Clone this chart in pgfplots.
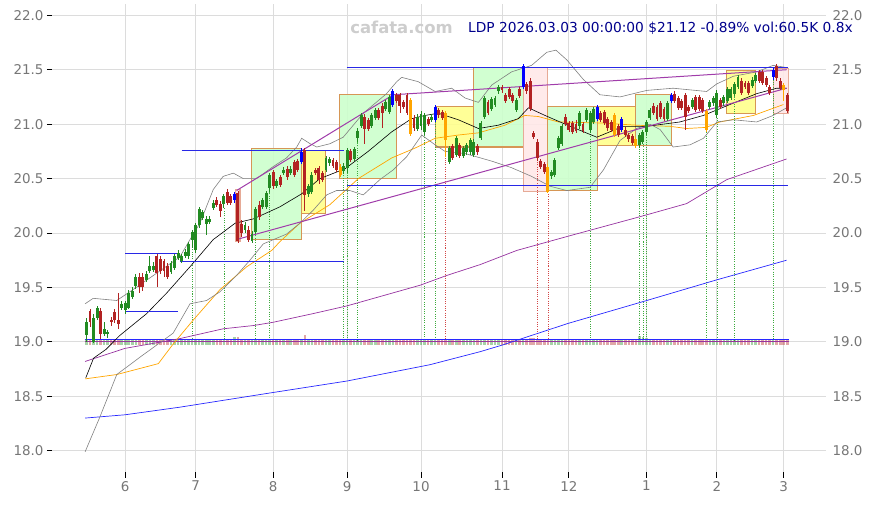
\documentclass[border=0pt]{standalone}
\usepackage{pgfplots}
\usepackage{pgfplotstable}
\pgfplotsset{compat=1.18}
\usepackage{fontspec}
\setmainfont{DejaVu Sans}
\definecolor{cgreen}{RGB}{34,139,34}
\definecolor{cred}{RGB}{178,34,34}
\definecolor{cblue}{RGB}{0,0,255}
\definecolor{corange}{RGB}{255,165,0}
\definecolor{lblgray}{RGB}{118,118,118}
\definecolor{gridgray}{RGB}{220,220,220}
\definecolor{boxgreen}{RGB}{204,255,204}
\definecolor{boxyellow}{RGB}{255,255,140}
\definecolor{boxpink}{RGB}{255,232,232}
\definecolor{boxedge}{RGB}{214,150,85}
\definecolor{pinkedge}{RGB}{230,170,150}
\definecolor{maPurple}{RGB}{150,50,160}
\definecolor{trPurple}{RGB}{160,60,170}
\definecolor{maBlue}{RGB}{40,40,255}
\definecolor{hBlue}{RGB}{40,40,230}
\definecolor{titleblue}{RGB}{0,0,140}
\definecolor{wmgray}{RGB}{205,205,205}
\definecolor{dotgreen}{RGB}{60,170,60}
\definecolor{dotred}{RGB}{210,70,70}

\pgfplotstableread{
i o h l c t v
-11 19.06 19.22 19.00 19.18 0 1
-10 19.28 19.30 19.14 19.18 1 1
-9 19.00 19.26 18.99 19.22 0 1
-8 19.22 19.33 19.20 19.31 0 1
-7 19.28 19.31 19.03 19.07 1 1
-6 19.07 19.18 19.05 19.12 0 1
-5 19.07 19.11 19.04 19.09 0 1
-4 19.20 19.23 19.15 19.18 1 1
-3 19.27 19.30 19.17 19.20 1 1
-2 19.20 19.45 19.12 19.16 1 1
-1 19.31 19.38 19.29 19.35 0 1
0 19.29 19.38 19.26 19.36 0 1
1 19.31 19.48 19.30 19.45 0 1
2 19.41 19.50 19.39 19.47 0 1
3 19.51 19.62 19.49 19.60 0 1
4 19.60 19.63 19.45 19.50 1 1
5 19.60 19.63 19.47 19.50 1 1
6 19.57 19.65 19.55 19.62 0 1
7 19.65 19.79 19.63 19.70 0 1
8 19.66 19.73 19.64 19.70 0 1
9 19.79 19.81 19.50 19.63 1 1
10 19.76 19.79 19.62 19.65 1 1
11 19.74 19.76 19.60 19.65 1 1
12 19.70 19.72 19.58 19.60 1 1
13 19.64 19.74 19.62 19.72 0 1
14 19.68 19.81 19.66 19.79 0 1
15 19.77 19.84 19.75 19.82 0 1
16 19.74 19.81 19.72 19.79 0 1
17 19.79 19.85 19.77 19.83 0 1
18 19.79 19.92 19.76 19.90 0 1
19 19.94 20.03 19.86 20.01 0 1
20 19.84 20.09 19.82 20.07 0 1
21 20.07 20.24 20.05 20.22 0 1
22 20.14 20.21 20.12 20.19 0 1
23 20.08 20.16 19.98 20.13 0 1
24 20.10 20.16 20.08 20.13 0 1
25 20.23 20.30 20.21 20.28 0 1
26 20.30 20.33 20.24 20.26 1 1
27 20.27 20.29 20.15 20.20 1 1
28 20.27 20.36 20.23 20.34 0 1
29 20.38 20.40 20.26 20.28 1 1
30 20.34 20.36 20.26 20.28 1 1
31 20.30 20.38 20.28 20.36 2 1.6
32 20.37 20.39 19.91 19.93 1 1.6
33 20.08 20.12 19.96 20.00 1 1
34 20.03 20.10 20.00 20.07 0 1
35 20.03 20.06 19.92 19.94 1 1
36 19.93 20.02 19.91 19.99 0 1
37 20.01 20.24 19.99 20.22 0 1
38 20.26 20.29 20.12 20.15 1 1
39 20.24 20.32 20.22 20.30 0 1
40 20.24 20.39 20.22 20.37 0 1
41 20.41 20.55 20.38 20.53 0 1
42 20.56 20.58 20.40 20.43 1 1
43 20.43 20.50 20.41 20.48 0 1
44 20.51 20.53 20.42 20.44 1 1
45 20.55 20.61 20.53 20.58 0 1
46 20.59 20.62 20.49 20.51 1 1
47 20.55 20.62 20.53 20.59 0 1
48 20.65 20.67 20.51 20.53 1 1
49 20.66 20.68 20.56 20.58 1 1
50 20.65 20.78 20.63 20.74 2 1
51 20.76 20.78 20.20 20.35 1 1.9
52 20.36 20.45 20.33 20.43 0 1
53 20.38 20.56 20.36 20.53 0 1
54 20.58 20.60 20.53 20.55 1 1
55 20.60 20.62 20.45 20.49 1 1
56 20.55 20.57 20.47 20.49 1 1
57 20.58 20.71 20.56 20.69 0 1
58 20.64 20.70 20.62 20.68 0 1
59 20.67 20.69 20.60 20.62 1 1
60 20.65 20.67 20.56 20.58 1 1
61 20.61 20.63 20.51 20.53 3 1
62 20.57 20.64 20.54 20.62 0 1
63 20.60 20.78 20.55 20.76 0 1
64 20.75 20.77 20.65 20.67 1 1
65 20.68 20.79 20.66 20.77 0 1
66 20.87 20.96 20.84 20.94 0 1
67 20.98 21.10 20.96 21.08 0 1
68 21.07 21.09 20.82 20.96 1 1
69 21.04 21.06 20.94 20.96 1 1
70 20.98 21.10 20.96 21.08 0 1
71 21.06 21.15 21.04 21.13 0 1
72 21.13 21.15 21.04 21.06 1 1
73 21.17 21.19 20.96 21.10 1 1
74 21.14 21.22 21.12 21.20 0 1
75 21.11 21.27 21.09 21.25 0 1
76 21.18 21.32 21.16 21.30 2 1
77 21.27 21.29 21.19 21.21 1 1
78 21.27 21.29 21.10 21.17 1 1
79 21.20 21.22 21.14 21.16 1 1
80 21.27 21.29 21.08 21.10 1 1
81 21.22 21.24 20.89 20.91 3 1
82 21.06 21.08 20.94 20.96 1 1
83 20.96 21.09 20.94 21.07 0 1
84 20.98 21.12 20.95 21.09 0 1
85 20.93 21.10 20.90 21.08 0 1
86 21.05 21.07 20.98 21.00 1 1
87 21.04 21.09 21.02 21.07 0 1
88 21.04 21.18 21.02 21.16 2 1
89 21.13 21.15 21.06 21.08 1 1
90 21.11 21.13 21.04 21.06 1 1
91 21.10 21.12 20.70 20.85 3 1
92 20.65 20.80 20.63 20.78 0 1
93 20.80 20.82 20.67 20.69 1 1
94 20.72 20.89 20.70 20.87 0 1
95 20.81 20.83 20.69 20.71 1 1
96 20.71 20.80 20.69 20.78 0 1
97 20.74 20.83 20.72 20.81 0 1
98 20.74 20.87 20.72 20.85 0 1
99 20.72 20.86 20.70 20.84 0 1
100 20.80 20.82 20.72 20.74 1 1
101 20.87 21.03 20.85 21.01 0 1
102 21.07 21.26 21.05 21.24 0 1
103 21.20 21.22 21.08 21.10 1 1
104 21.14 21.25 21.12 21.23 0 1
105 21.18 21.26 21.16 21.24 0 1
106 21.30 21.36 21.28 21.34 0 1
107 21.34 21.36 21.29 21.31 1 1
108 21.27 21.29 21.19 21.21 1 1
109 21.32 21.34 21.23 21.25 1 1
110 21.27 21.29 21.19 21.21 1 1
111 21.13 21.24 21.11 21.22 0 1
112 21.32 21.34 21.24 21.26 1 1
113 21.34 21.55 21.32 21.53 2 1
114 21.37 21.39 21.28 21.30 1 1
115 21.40 21.42 21.12 21.14 1 1.3
116 20.92 20.94 20.86 20.88 1 1.3
117 20.84 20.86 20.66 20.69 1 1.2
118 20.66 20.68 20.59 20.61 1 1
119 20.63 20.65 20.54 20.56 1 1
120 20.61 20.63 20.37 20.38 3 1
121 20.52 20.58 20.50 20.56 0 1
122 20.53 20.69 20.51 20.67 0 1
123 20.78 20.89 20.76 20.87 0 1
124 20.82 21.00 20.80 20.98 0 1
125 21.07 21.09 20.98 21.00 1 1
126 21.01 21.03 20.93 20.95 1 1
127 21.01 21.03 20.91 20.93 1 1
128 21.00 21.04 20.92 20.94 1 1
129 20.98 21.12 20.96 21.10 0 1
130 21.00 21.02 20.92 20.94 1 1
131 21.04 21.15 21.02 21.13 0 1
132 20.95 21.12 20.92 21.10 0 1
133 21.02 21.16 21.00 21.14 0 1
134 21.05 21.18 21.03 21.16 2 1
135 21.10 21.12 21.02 21.04 1 1
136 21.11 21.13 20.99 21.01 1 1
137 21.05 21.07 20.94 20.96 1 1
138 21.02 21.04 20.93 20.95 1 1
139 21.08 21.10 20.88 20.90 3 1
140 20.98 21.00 20.88 20.90 1 1
141 20.95 21.07 20.93 21.05 2 1
142 20.95 20.97 20.88 20.90 1 1
143 20.90 20.92 20.84 20.86 1 1
144 20.89 20.91 20.81 20.83 1 1
145 20.86 20.88 20.78 20.80 3 1
146 20.81 20.92 20.78 20.90 0 1.8
147 20.84 20.95 20.82 20.93 0 1.5
148 20.93 21.04 20.90 21.02 0 1.3
149 21.06 21.15 21.04 21.13 0 1
150 21.17 21.19 21.08 21.10 1 1
151 21.16 21.18 21.03 21.05 1 1
152 21.19 21.21 21.05 21.07 1 1
153 21.14 21.16 21.03 21.05 1 1
154 21.05 21.21 21.03 21.19 0 1
155 21.21 21.29 21.19 21.27 2 1
156 21.28 21.30 21.19 21.21 1 1
157 21.24 21.26 21.13 21.15 1 1
158 21.21 21.23 21.13 21.15 1 1
159 21.27 21.29 20.95 21.07 1 1
160 21.16 21.18 21.10 21.12 1 1
161 21.16 21.24 21.14 21.22 0 1
162 21.25 21.27 21.11 21.13 1 1
163 21.25 21.27 21.12 21.14 1 1
164 21.22 21.24 21.10 21.12 1 1
165 21.12 21.14 20.93 20.95 3 1
166 21.16 21.22 21.14 21.20 0 1
167 21.19 21.26 21.17 21.24 0 1
168 21.08 21.31 21.06 21.29 0 1
169 21.22 21.24 21.14 21.16 1 1
170 21.19 21.27 21.17 21.25 0 1
171 21.21 21.34 21.19 21.32 0 1
172 21.24 21.34 21.22 21.32 0 1
173 21.28 21.39 21.26 21.37 0 1
174 21.34 21.45 21.32 21.43 0 1
175 21.40 21.42 21.27 21.29 1 1
176 21.38 21.40 21.32 21.34 1 1
177 21.38 21.40 21.27 21.29 1 1
178 21.35 21.43 21.33 21.41 0 1
179 21.40 21.47 21.38 21.45 0 1
180 21.48 21.50 21.38 21.40 1 1
181 21.48 21.50 21.36 21.38 1 1
182 21.42 21.44 21.34 21.36 1 1
183 21.34 21.36 21.27 21.29 1 1
184 21.43 21.52 21.41 21.50 2 1
185 21.53 21.55 21.40 21.42 1 1
186 21.40 21.42 21.31 21.33 1 1
187 21.36 21.38 21.21 21.31 3 1
188 21.27 21.29 21.10 21.12 1 1
}\candles

\pgfplotstableread{
i top c
19 19.86 0
28 20.23 0
37 19.99 0
41 20.38 0
62 20.54 0
63 20.55 0
66 20.84 0
85 20.90 0
88 21.02 0
91 20.70 1
117 20.66 1
120 20.37 1
132 20.92 0
146 20.78 0
147 20.82 0
148 20.90 0
165 20.93 0
168 21.06 0
173 21.26 0
184 21.41 0
}\vlines

\pgfplotsset{
  chartbase/.style={
    scale only axis, width=774bp, height=468.1bp,
    xmin=-20.8, xmax=199, ymin=17.8, ymax=22.1,
    ytick={18,18.5,19,19.5,20,20.5,21,21.5,22},
    yticklabel style={/pgf/number format/fixed, /pgf/number format/fixed zerofill, /pgf/number format/precision=1},
    /pgf/number format/assume math mode=true,
    ticklabel style={font=\fontsize{13.5}{15}\selectfont, text=lblgray},
    axis line style={draw=none},
  },
  ebase/.style={draw=none, forget plot, mark=none,
    error bars/y dir=both, error bars/y explicit, error bars/error mark=none},
  wick/.style={ebase, error bars/error bar style={draw=#1, line width=0.8bp}},
  body/.style={ebase, error bars/error bar style={draw=#1, line width=2.9bp}},
  vol/.style={ebase, error bars/error bar style={draw=#1, opacity=0.4, line width=2.6bp}},
  vdot/.style={ebase, error bars/error bar style={draw=#1, line width=0.6bp, dash pattern=on 1bp off 1.3bp}},
  gbox/.style={fill=boxgreen, fill opacity=0.9, draw=boxedge, line width=1.1bp},
  ybox/.style={fill=boxyellow, fill opacity=0.9, draw=boxedge, line width=1.1bp},
  pbox/.style={fill=boxpink, fill opacity=0.9, draw=pinkedge, line width=1.1bp},
}

\begin{document}
\begin{tikzpicture}
\begin{axis}[chartbase,
  xtick={0,20,42,63,84,107,126,148,168,187},
  xticklabels={6,7,8,9,10,11,12,1,2,3},
  tick pos=left, tick align=outside, major tick length=5bp,
  tick style={black, line width=0.9bp},
  grid=major, major grid style={gridgray, line width=0.9bp},
]
% pattern boxes
\addplot[pbox] coordinates {(31.3,19.92)(32.6,19.92)(32.6,20.40)(31.3,20.40)} -- cycle;
\addplot[gbox] coordinates {(35.9,19.94)(50.1,19.94)(50.1,20.78)(35.9,20.78)} -- cycle;
\addplot[ybox] coordinates {(50.1,20.18)(56.9,20.18)(56.9,20.76)(50.1,20.76)} -- cycle;
\addplot[gbox] coordinates {(60.8,20.50)(77.1,20.50)(77.1,21.27)(60.8,21.27)} -- cycle;
\addplot[ybox] coordinates {(88.0,20.79)(98.8,20.79)(98.8,21.16)(88.0,21.16)} -- cycle;
\addplot[gbox] coordinates {(98.8,20.79)(113.2,20.79)(113.2,21.52)(98.8,21.52)} -- cycle;
\addplot[pbox] coordinates {(113.2,20.38)(120.0,20.38)(120.0,21.52)(113.2,21.52)} -- cycle;
\addplot[gbox] coordinates {(120.0,20.39)(134.0,20.39)(134.0,21.16)(120.0,21.16)} -- cycle;
\addplot[ybox] coordinates {(134.0,20.80)(144.8,20.80)(144.8,21.16)(134.0,21.16)} -- cycle;
\addplot[gbox] coordinates {(144.8,20.80)(155.2,20.80)(155.2,21.27)(144.8,21.27)} -- cycle;
\addplot[ybox] coordinates {(170.8,21.10)(179.0,21.10)(179.0,21.49)(170.8,21.49)} -- cycle;
\addplot[pbox] coordinates {(184.0,21.10)(188.4,21.10)(188.4,21.51)(184.0,21.51)} -- cycle;

% dotted signal lines
\addplot[vdot=dotgreen, restrict expr to domain={\thisrow{c}}{0:0}] table[x=i, y expr={(\thisrow{top}+19.02)/2}, y error expr={(\thisrow{top}-19.02)/2}] {\vlines};
\addplot[vdot=dotred, restrict expr to domain={\thisrow{c}}{1:1}] table[x=i, y expr={(\thisrow{top}+19.02)/2}, y error expr={(\thisrow{top}-19.02)/2}] {\vlines};

% volume
\addplot[vol=cgreen, restrict expr to domain={mod(\thisrow{t},2)}{0:0}] table[x=i, y expr={18.975+0.0225*\thisrow{v}}, y error expr={0.0225*\thisrow{v}}] {\candles};
\addplot[vol=cred, restrict expr to domain={mod(\thisrow{t},2)}{1:1}] table[x=i, y expr={18.975+0.0225*\thisrow{v}}, y error expr={0.0225*\thisrow{v}}] {\candles};
\addplot[maPurple, line width=0.8bp] coordinates {(-11.5,19.003)(188.5,19.003)};
\addplot[maBlue, line width=0.9bp] coordinates {(-11.5,19.018)(188.5,19.018)};

% long moving averages
\addplot[maBlue, line width=0.7bp] coordinates {(-11.4,18.30)(-0.1,18.33)(15.5,18.40)(41,18.53)(62.9,18.64)(86.5,18.79)(100.8,18.91)(107,18.97)(125.8,19.17)(148.1,19.38)(168,19.57)(187.8,19.75)};
\addplot[maPurple, line width=0.7bp] coordinates {(-11.4,18.82)(-0.1,18.94)(15.5,19.03)(27.8,19.12)(36.4,19.15)(42,19.18)(53.4,19.26)(62.9,19.33)(83.7,19.52)(91.3,19.61)(100.8,19.71)(111.2,19.84)(125.7,19.97)(146.2,20.15)(159.4,20.27)(170.8,20.49)(187.8,20.68)};
\addplot[corange, line width=0.7bp] coordinates {(-11.4,18.66)(-2.4,18.70)(9.4,18.80)(13.6,18.98)(19.3,19.20)(26.9,19.48)(34.5,19.69)(41.6,19.84)(43.9,19.92)(49.6,20.09)(58.1,20.26)(66.2,20.50)(75.7,20.69)(82.3,20.78)(88,20.87)(94.6,20.90)(100.3,20.92)(107.8,20.99)(113.5,21.08)(117.3,21.07)(123,21.02)(135.8,21.01)(145.2,20.99)(154.7,20.98)(159.4,20.96)(164.9,20.97)(168.9,21.02)(178.4,21.08)(186.9,21.18)};

% bollinger bands
\addplot[gray, line width=0.6bp] coordinates {(-11.4,19.35)(-9.1,19.40)(-2.4,19.38)(1.3,19.46)(8,19.61)(15.5,19.78)(18.4,19.94)(21.2,20.09)(25,20.40)(27.8,20.52)(30.7,20.55)(33.5,20.50)(37.3,20.50)(42,20.61)(45.8,20.69)(48.7,20.79)(50.1,20.87)(52.5,20.82)(54.4,20.79)(58.1,20.82)(61.9,20.88)(67.6,21.10)(74.2,21.28)(77.1,21.39)(78.5,21.43)(83.2,21.39)(88,21.30)(92.7,21.33)(96.5,21.24)(100.3,21.20)(104.1,21.36)(109.7,21.48)(115.4,21.54)(119.7,21.66)(122.3,21.68)(125.4,21.59)(130.1,21.41)(134.8,21.27)(140.5,21.25)(148.1,21.31)(155.6,21.33)(165.1,21.30)(168,21.37)(172.7,21.44)(179.3,21.48)(184,21.54)(187.8,21.52)};
\addplot[gray, line width=0.6bp] coordinates {(-11.4,17.99)(-7.2,18.31)(-2.4,18.70)(4.2,18.86)(8.9,18.97)(13.6,19.08)(18.4,19.35)(23.1,19.38)(26.9,19.46)(31.6,19.61)(35.4,19.75)(39.2,19.90)(45.8,19.99)(49.6,20.09)(53.4,20.21)(57.2,20.35)(60,20.39)(63.8,20.39)(67.6,20.35)(72.3,20.49)(76.1,20.58)(79.9,20.70)(84.2,20.90)(88,20.81)(90.8,20.75)(96.5,20.73)(104.1,20.66)(109.7,20.60)(115.4,20.52)(120.6,20.43)(125.4,20.39)(132,20.42)(135.8,20.58)(140.5,20.85)(145.2,20.96)(149,21.00)(151.9,20.95)(155.6,20.79)(160.4,20.81)(164.2,20.87)(168,21.02)(172.7,21.04)(179.3,21.02)(184,21.08)(187.8,21.15)};

% short moving average
\addplot[black, line width=0.6bp] coordinates {(-11.2,18.67)(-9,18.85)(-5.5,18.93)(-1.5,19.06)(6.1,19.26)(11.8,19.45)(18.4,19.69)(25,19.94)(31.2,20.09)(36.4,20.13)(43.9,20.24)(50.1,20.36)(55.3,20.50)(62.4,20.59)(69,20.75)(75.7,20.93)(81.3,21.05)(85.1,21.08)(88.9,21.10)(94.6,21.04)(100.3,20.96)(105.9,20.99)(111.6,21.05)(114.5,21.15)(119.2,21.08)(124.9,21.00)(133.9,20.88)(141.4,20.98)(148.1,20.98)(157.5,21.02)(164.2,21.08)(171.7,21.18)(179.3,21.28)(185,21.33)(187.8,21.33)};

% trend lines
\addplot[trPurple, line width=1bp] coordinates {(31.6,20.39)(76.1,21.27)};
\addplot[trPurple, line width=1bp] coordinates {(76.1,21.27)(187.8,21.50)};
\addplot[trPurple, line width=1bp] coordinates {(31.6,19.94)(187.8,21.33)};

% horizontal levels
\addplot[hBlue, line width=0.9bp] coordinates {(0,19.28)(15,19.28)};
\addplot[hBlue, line width=0.9bp] coordinates {(0,19.81)(15,19.81)};
\addplot[hBlue, line width=0.9bp] coordinates {(15.5,19.74)(62,19.74)};
\addplot[hBlue, line width=0.9bp] coordinates {(16,20.76)(62,20.76)};
\addplot[hBlue, line width=0.9bp] coordinates {(62.9,21.52)(188.3,21.52)};
\addplot[hBlue, line width=0.9bp] coordinates {(62.9,20.44)(188.3,20.44)};

% candles
\addplot[wick=cgreen, restrict expr to domain={\thisrow{t}}{0:0}] table[x=i, y expr={(\thisrow{h}+\thisrow{l})/2}, y error expr={(\thisrow{h}-\thisrow{l})/2}] {\candles};
\addplot[body=cgreen, restrict expr to domain={\thisrow{t}}{0:0}] table[x=i, y expr={(\thisrow{o}+\thisrow{c})/2}, y error expr={max(abs(\thisrow{c}-\thisrow{o})/2,0.006)}] {\candles};
\addplot[wick=cred, restrict expr to domain={\thisrow{t}}{1:1}] table[x=i, y expr={(\thisrow{h}+\thisrow{l})/2}, y error expr={(\thisrow{h}-\thisrow{l})/2}] {\candles};
\addplot[body=cred, restrict expr to domain={\thisrow{t}}{1:1}] table[x=i, y expr={(\thisrow{o}+\thisrow{c})/2}, y error expr={max(abs(\thisrow{c}-\thisrow{o})/2,0.006)}] {\candles};
\addplot[wick=cblue, restrict expr to domain={\thisrow{t}}{2:2}] table[x=i, y expr={(\thisrow{h}+\thisrow{l})/2}, y error expr={(\thisrow{h}-\thisrow{l})/2}] {\candles};
\addplot[body=cblue, restrict expr to domain={\thisrow{t}}{2:2}] table[x=i, y expr={(\thisrow{o}+\thisrow{c})/2}, y error expr={max(abs(\thisrow{c}-\thisrow{o})/2,0.006)}] {\candles};
\addplot[wick=corange, restrict expr to domain={\thisrow{t}}{3:3}] table[x=i, y expr={(\thisrow{h}+\thisrow{l})/2}, y error expr={(\thisrow{h}-\thisrow{l})/2}] {\candles};
\addplot[body=corange, restrict expr to domain={\thisrow{t}}{3:3}] table[x=i, y expr={(\thisrow{o}+\thisrow{c})/2}, y error expr={max(abs(\thisrow{c}-\thisrow{o})/2,0.006)}] {\candles};
\end{axis}

\begin{axis}[chartbase,
  xtick=\empty, yticklabel pos=right, major tick length=0pt,
  yticklabel style={xshift=3bp},
]
\end{axis}

\node[anchor=east, inner sep=0pt, text=titleblue, font=\fontsize{13.8}{15}\selectfont]
  at ([xshift=27bp, yshift=-24bp]current axis.north east)
  {LDP 2026.03.03 00:00:00 \$21.12 -0.89\% vol:60.5K 0.8x};
\node[anchor=center, inner sep=0pt, text=wmgray, font=\bfseries\fontsize{16.5}{18}\selectfont]
  at ([xshift=349.5bp, yshift=-23bp]current axis.north west) {cafata.com};

\pgfresetboundingbox
\path[use as bounding box] ([xshift=-52bp,yshift=-33.5bp]current axis.south west) rectangle ([xshift=824bp,yshift=472.5bp]current axis.south west);
\end{tikzpicture}
\end{document}
